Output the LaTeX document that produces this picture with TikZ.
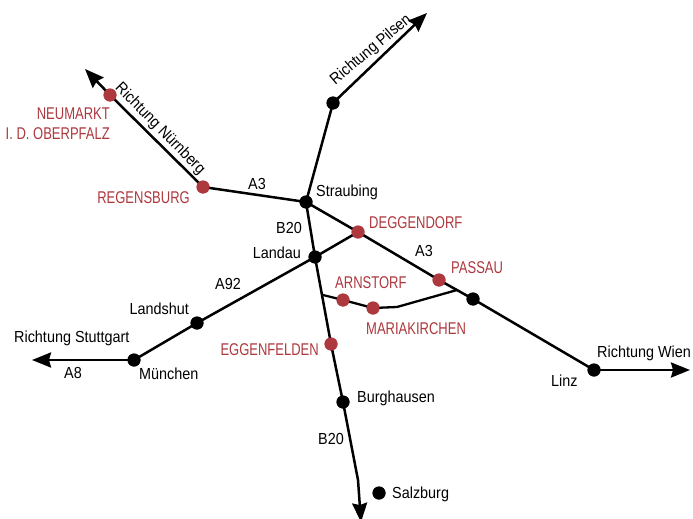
\documentclass[tikz,border=0pt]{standalone}
\usepackage{fontspec}
\setmainfont[FakeStretch=0.9]{Liberation Sans}
\newfontfamily\redfont[FakeStretch=0.765]{Liberation Sans}
\usetikzlibrary{arrows.meta}
\definecolor{cityred}{RGB}{173,56,62}
\tikzset{
  road/.style={line width=2.5pt,black},
  roadarrow/.style={road,-{Stealth[length=19pt,width=15pt,inset=2pt]}},
  bdot/.style={circle,fill=black,inner sep=0pt,minimum size=13pt},
  rdot/.style={circle,fill=cityred,inner sep=0pt,minimum size=13pt},
  lbl/.style={font=\fontsize{16}{18}\selectfont,text=black,inner sep=0pt},
  rlbl/.style={font=\redfont\fontsize{17}{20}\selectfont,text=cityred,inner sep=0pt},
}
\begin{document}
\begin{tikzpicture}[x=1pt,y=-1pt]
\useasboundingbox (0,0) rectangle (693,519);
% free ends
\coordinate (tipP) at (427,13);
\coordinate (tipN) at (85,69);
\coordinate (tipS) at (32,360);
\coordinate (tipW) at (690,370);
\coordinate (tipB) at (361,522);
\coordinate (bendB) at (358,480);
\coordinate (brA) at (323,295);
\coordinate (brB) at (397,307);
\coordinate (brC) at (457,290);
% places
\node[bdot] (straubing) at (306,202) {};
\node[bdot] (pilsen) at (333,103) {};
\node[rdot] (neumarkt) at (110,95) {};
\node[rdot] (regensburg) at (203,187) {};
\node[rdot] (deggendorf) at (358,232) {};
\node[bdot] (landau) at (315,257) {};
\node[bdot] (landshut) at (197,323) {};
\node[bdot] (muenchen) at (134,360) {};
\node[rdot] (passau) at (439,280) {};
\node[bdot] (pass2) at (473,299) {};
\node[bdot] (linz) at (594,370) {};
\node[rdot] (arnstorf) at (343,300) {};
\node[rdot] (maria) at (373,308) {};
\node[rdot] (eggenfelden) at (331,344) {};
\node[bdot] (burghausen) at (343,402) {};
\node[bdot] (salzburg) at (379,493) {};
% roads
\draw[roadarrow] (straubing.center) -- (pilsen.center) -- (tipP);
\draw[roadarrow] (straubing.center) -- (regensburg.center) -- (neumarkt.center) -- (tipN);
\draw[road] (straubing.center) -- (deggendorf.center) -- (passau.center) -- (pass2.center) -- (linz.center);
\draw[roadarrow] (linz.center) -- (tipW);
\draw[road] (deggendorf.center) -- (landau.center) -- (landshut.center) -- (muenchen.center);
\draw[roadarrow] (muenchen.center) -- (tipS);
\draw[roadarrow] (straubing.center) -- (landau.center) -- (eggenfelden.center) -- (burghausen.center) -- (bendB) -- (tipB);
\draw[road,line width=2.3pt] (brA) -- (arnstorf.center) -- (maria.center) -- (brB) -- (brC);
% redraw dots above the roads
\foreach \n/\s in {straubing/bdot,pilsen/bdot,landau/bdot,landshut/bdot,muenchen/bdot,pass2/bdot,linz/bdot,burghausen/bdot,salzburg/bdot,neumarkt/rdot,regensburg/rdot,deggendorf/rdot,passau/rdot,arnstorf/rdot,maria/rdot,eggenfelden/rdot}
  \node[\s] at (\n.center) {};
% black labels
\node[lbl,anchor=west] (lstraubing) at (316,192) {Straubing};
\node[lbl] (la3a) at (257,184) {A3};
\node[lbl] (lb20a) at (289,228) {B20};
\node[lbl,anchor=east] (llandau) at (301,253) {Landau};
\node[lbl] (la3b) at (424,251) {A3};
\node[lbl] (la92) at (228,284) {A92};
\node[lbl,anchor=east] (llandshut) at (189,309) {Landshut};
\node[lbl,anchor=west] (lstutt) at (14,338) {Richtung Stuttgart};
\node[lbl] (la8) at (73,373) {A8};
\node[lbl,anchor=west] (lmuen) at (139,374) {München};
\node[lbl,anchor=west] (lburg) at (357,398) {Burghausen};
\node[lbl] (lb20b) at (331,439) {B20};
\node[lbl,anchor=west] (lsalz) at (392,494) {Salzburg};
\node[lbl,anchor=west] (lwien) at (597,353) {Richtung Wien};
\node[lbl,anchor=west] (llinz) at (551,381) {Linz};
\node[lbl,rotate=-45.5] (lnuern) at (160,129) {Richtung Nürnberg};
\node[lbl,rotate=40] (lpilsen) at (371,50) {Richtung Pilsen};
% red labels
\node[rlbl,anchor=east,align=right] (lneu) at (110,124) {NEUMARKT\\I. D. OBERPFALZ};
\node[rlbl,anchor=east] (lreg) at (190,198) {REGENSBURG};
\node[rlbl,anchor=west] (ldeg) at (369,223) {DEGGENDORF};
\node[rlbl,anchor=west] (lpas) at (451,268) {PASSAU};
\node[rlbl,anchor=west] (larn) at (335,283) {ARNSTORF};
\node[rlbl,anchor=west] (lmar) at (366,329) {MARIAKIRCHEN};
\node[rlbl,anchor=east] (legg) at (319,349.5) {EGGENFELDEN};
\end{tikzpicture}
\end{document}
